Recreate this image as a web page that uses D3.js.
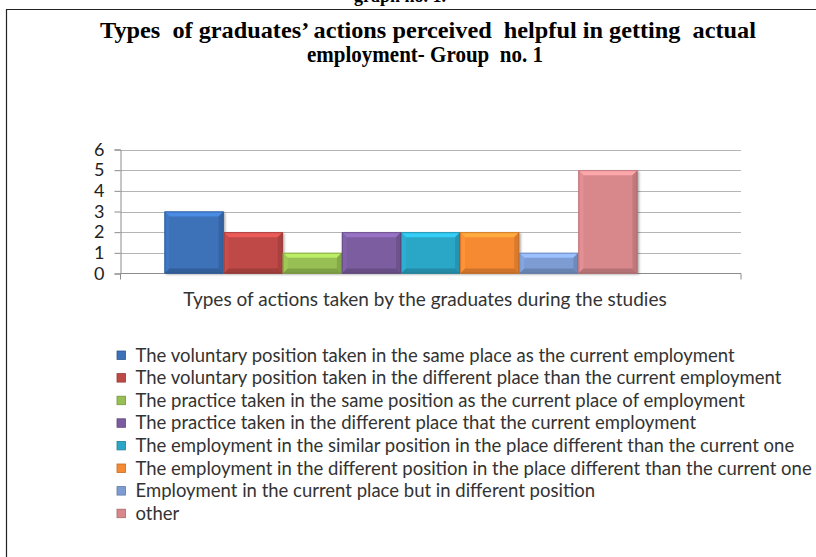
<!DOCTYPE html>
<html>
<head>
<meta charset="utf-8">
<script src="https://cdn.jsdelivr.net/npm/d3@7"></script>
<style>
  html, body { margin: 0; padding: 0; background: #fff; }
  svg { display: block; }
  text { white-space: pre; }
</style>
</head>
<body>
<svg id="chart" width="816" height="557"></svg>
<script>
// ---- data ----
const titleLines = ["Types  of graduates\u2019 actions perceived  helpful in getting  actual", "employment- Group  no. 1"];
const axisTitle = "Types of actions taken by the graduates during the studies";
const categories = [
  "The voluntary position taken in the same place as the current employment",
  "The voluntary position taken in the different place than the current employment",
  "The practice taken in the same position as the current place of employment",
  "The practice taken in the different place that the current employment",
  "The employment in the similar position in the place different than the current one",
  "The employment in the different position in the place different than the current one",
  "Employment in the current place but in different position",
  "other"
];
const values = [3, 2, 1, 2, 2, 2, 1, 5];
const colors = ["#3c71b8", "#be4a47", "#97bf52", "#7b5d9f", "#2ba6c7", "#f68a33", "#7e9cd4", "#d8888b"];
const yTicks = [0, 1, 2, 3, 4, 5, 6];

// ---- layout ----
const svg = d3.select("#chart");
const plot = { left: 120.5, right: 741, top: 149.5, bottom: 273.5 };
const barStart = 164.5, barEnd = 637.5;
const sans = "Lato, 'Open Sans', sans-serif";

// clipped text from the document above + page frame
svg.append("text").attr("x", 400).attr("y", 1.5).attr("text-anchor", "middle")
  .attr("font-family", "Liberation Serif").attr("font-size", 18).attr("font-weight", "bold")
  .attr("fill", "#000").text("graph no. 1.");
svg.append("path").attr("d", "M6.5,580 V9.5 H830").attr("fill", "none").attr("stroke", "#222").attr("stroke-width", 1.2);

// title
const tl = svg.append("g").attr("font-family", "Liberation Serif").attr("font-weight", "bold").attr("fill", "#000");
tl.append("text").attr("x", 428).attr("y", 38).attr("text-anchor", "middle").attr("font-size", 23)
  .attr("textLength", 656).attr("lengthAdjust", "spacingAndGlyphs").text(titleLines[0]);
tl.append("text").attr("x", 425).attr("y", 62).attr("text-anchor", "middle").attr("font-size", 23)
  .attr("textLength", 236).attr("lengthAdjust", "spacingAndGlyphs").text(titleLines[1]);

// scales
const y = d3.scaleLinear().domain([0, 6]).range([plot.bottom, plot.top]);
const x = d3.scaleBand().domain(categories).range([barStart, barEnd]).paddingInner(0).paddingOuter(0);

// gridlines
svg.append("g").selectAll("line").data(yTicks.filter(d => d > 0)).join("line")
  .attr("x1", plot.left).attr("x2", plot.right)
  .attr("y1", d => Math.round(y(d)) + 0.5).attr("y2", d => Math.round(y(d)) + 0.5)
  .attr("stroke", "#b4b4b4").attr("stroke-width", 1);

// y axis
const yAxis = svg.append("g").attr("transform", `translate(${plot.left},0)`)
  .call(d3.axisLeft(y).tickValues(yTicks).tickSize(6).tickPadding(10).tickFormat(d3.format("d")));
yAxis.select(".domain").attr("stroke", "#8c8c8c");
yAxis.selectAll(".tick line").attr("stroke", "#8c8c8c");
yAxis.selectAll(".tick text").attr("font-family", sans).attr("font-size", 18).attr("fill", "#222");

// x axis baseline with end ticks
svg.append("line").attr("x1", plot.left).attr("x2", plot.right).attr("y1", plot.bottom).attr("y2", plot.bottom)
  .attr("stroke", "#8c8c8c");
svg.append("g").selectAll("line").data([plot.left, plot.right]).join("line")
  .attr("x1", d => d).attr("x2", d => d).attr("y1", plot.bottom).attr("y2", plot.bottom + 6)
  .attr("stroke", "#8c8c8c");

// bars with bevel
const defs = svg.append("defs");
const f = defs.append("filter").attr("id", "sh").attr("x", "-20%").attr("y", "-20%").attr("width", "140%").attr("height", "140%");
f.append("feDropShadow").attr("dx", 1.5).attr("dy", 1).attr("stdDeviation", 1.2).attr("flood-color", "#000").attr("flood-opacity", 0.35);

const bars = svg.append("g").selectAll("g").data(categories.map((c, i) => ({ c, v: values[i], col: colors[i] })))
  .join("g");
bars.each(function(d) {
  const g = d3.select(this);
  const x0 = x(d.c), w = x.bandwidth(), y0 = y(d.v), h = y(0) - y(d.v);
  const b = Math.min(5, h / 3);
  const base = d3.color(d.col);
  g.append("rect").attr("x", x0).attr("y", y0).attr("width", w).attr("height", h)
    .attr("fill", d.col).attr("filter", "url(#sh)");
  g.append("path").attr("d", `M${x0},${y0} H${x0 + w} L${x0 + w - b},${y0 + b} H${x0 + b} Z`)
    .attr("fill", base.brighter(0.6));
  g.append("path").attr("d", `M${x0},${y0} L${x0 + b},${y0 + b} V${y0 + h - b} L${x0},${y0 + h} Z`)
    .attr("fill", base.brighter(0.15));
  g.append("path").attr("d", `M${x0 + w},${y0} L${x0 + w - b},${y0 + b} V${y0 + h - b} L${x0 + w},${y0 + h} Z`)
    .attr("fill", base.darker(0.35));
  g.append("path").attr("d", `M${x0},${y0 + h} L${x0 + b},${y0 + h - b} H${x0 + w - b} L${x0 + w},${y0 + h} Z`)
    .attr("fill", base.darker(0.5));
  g.append("rect").attr("x", x0 + 0.5).attr("y", y0 + 0.5).attr("width", w - 1).attr("height", h - 1)
    .attr("fill", "none").attr("stroke", base.darker(0.9)).attr("stroke-opacity", 0.6).attr("stroke-width", 1);
});

// axis title
svg.append("text").attr("x", 425).attr("y", 306).attr("text-anchor", "middle")
  .attr("font-family", sans).attr("font-size", 19).attr("fill", "#333")
  .text(axisTitle);

// legend
const legend = svg.append("g").selectAll("g").data(categories).join("g")
  .attr("transform", (d, i) => `translate(117, ${351 + i * 22.6})`);
legend.append("rect").attr("width", 8.5).attr("height", 8.5)
  .attr("fill", (d, i) => colors[i]).attr("stroke", (d, i) => d3.color(colors[i]).darker(0.7)).attr("stroke-width", 0.8);
legend.append("text").attr("x", 18.5).attr("y", 10.5)
  .attr("font-family", sans).attr("font-size", 18.5).attr("fill", "#333")
  .text(d => d);
</script>
</body>
</html>
